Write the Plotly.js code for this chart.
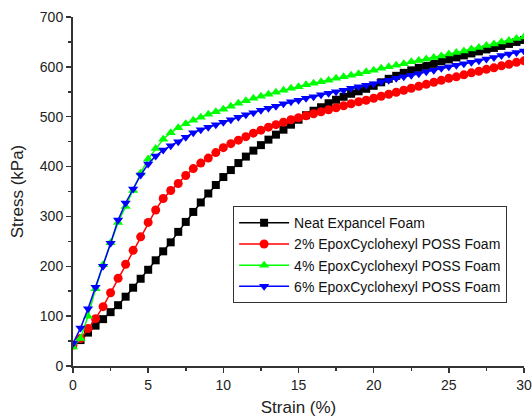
<!DOCTYPE html>
<html>
<head>
<meta charset="utf-8">
<script src="https://cdn.plot.ly/plotly-3.0.1.min.js"></script>
<style>html,body{margin:0;padding:0;background:#fff;}#chart{width:532px;height:417px;}</style>
</head>
<body>
<div id="chart"></div>
<script>
const strain = [0,0.5,1,1.5,2,2.5,3,3.5,4,4.5,5,5.5,6,6.5,7,7.5,8,8.5,9,9.5,10,10.5,11,11.5,12,12.5,13,13.5,14,14.5,15,15.5,16,16.5,17,17.5,18,18.5,19,19.5,20,20.5,21,21.5,22,22.5,23,23.5,24,24.5,25,25.5,26,26.5,27,27.5,28,28.5,29,29.5,30];

const neat = [42,52,67,81,94,108,122,139,157,175,193,212,230,248,269,289,309,328,346,363,379,393,407,420,432,443,454,464,474,484,494,503,512,519,527,534,540,546,551,556,562,569,576,582,588,593,598,602,606,611,615,619,623,627,631,635,638,642,646,650,654];

const poss2 = [42,55,75,95,119,147,176,204,232,259,288,313,336,352,366,382,396,407,417,428,438,446,453,460,467,473,479,484,489,494,498,502,506,510,514,518,522,526,530,533,537,541,545,549,553,557,561,565,569,573,577,580,584,588,591,595,598,602,605,609,612];

const poss4 = [38,55,100,155,203,247,288,320,352,387,415,436,455,468,478,486,493,499,505,510,515,521,527,532,537,541,545,549,553,557,560,564,567,570,573,577,580,583,586,590,593,597,600,603,606,610,613,616,619,622,626,629,632,636,639,643,646,650,653,657,660];

const poss6 = [45,76,115,158,200,246,293,327,355,383,405,421,433,442,450,459,468,474,479,484,489,494,499,504,508,513,517,521,526,530,533,537,540,544,547,550,553,557,560,563,566,570,573,577,580,583,586,590,593,597,600,603,606,609,612,616,619,623,626,629,632];

const seriesNames = ["Neat Expancel Foam","2% EpoxCyclohexyl POSS Foam","4% EpoxCyclohexyl POSS Foam","6% EpoxCyclohexyl POSS Foam"];
const xTicks = [0,5,10,15,20,25,30];
const yTicks = [0,100,200,300,400,500,600,700];

const series = [neat, poss2, poss4, poss6];
const colors = ["#000000","#ff0000","#00ff00","#0000ff"];
const symbols = ["square","circle","triangle-up","triangle-down"];
const sizes = [8,9,9,9];

const traces = series.map((ys,i)=>({
  x: strain, y: ys, name: seriesNames[i], type:'scatter', mode:'lines+markers',
  line:{color:colors[i], width:1.5},
  marker:{symbol:symbols[i], color:colors[i], size:sizes[i], line:{width:0}}
}));

const layout = {
  width:532, height:417,
  margin:{l:73, r:8, t:17, b:51},
  paper_bgcolor:'#fff', plot_bgcolor:'#fff',
  font:{family:'Liberation Sans, Arial, sans-serif', size:14, color:'#222'},
  showlegend:true,
  legend:{x:0.355, y:0.458, xanchor:'left', yanchor:'top', bgcolor:'#fff', bordercolor:'#333', borderwidth:1,
    font:{size:14, color:'#111'}, tracegroupgap:0, itemwidth:50},
  xaxis:{range:[0,30], tickvals:xTicks, ticktext:xTicks.map(String), showgrid:false, zeroline:false,
    showline:true, linecolor:'#333', linewidth:2, ticks:'outside', ticklen:5, tickwidth:1.5, tickcolor:'#333',
    minor:{dtick:2.5, ticks:'outside', ticklen:3, tickwidth:1.5, tickcolor:'#333'},
    tickfont:{size:14},
    title:{text:'Strain (%)', font:{size:17, color:'#222'}, standoff:10}},
  yaxis:{range:[0,700], tickvals:yTicks, ticktext:yTicks.map(String), showgrid:false, zeroline:false,
    showline:true, linecolor:'#333', linewidth:2, ticks:'outside', ticklen:5, tickwidth:1.5, tickcolor:'#333',
    minor:{dtick:50, ticks:'outside', ticklen:3, tickwidth:1.5, tickcolor:'#333'},
    tickfont:{size:14},
    title:{text:'Stress (kPa)', font:{size:17, color:'#222'}, standoff:12}}
};

Plotly.newPlot('chart', traces, layout, {displayModeBar:false, staticPlot:true});
</script>
</body>
</html>
